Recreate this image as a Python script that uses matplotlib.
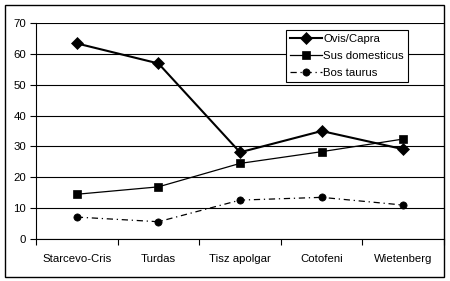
import numpy as np
import matplotlib.pyplot as plt
from matplotlib.patches import Rectangle

plt.rcParams['font.family'] = ['Liberation Sans', 'DejaVu Sans']

# Data
sites = ['Starcevo-Cris', 'Turdas', 'Tisz apolgar', 'Cotofeni', 'Wietenberg']
ovis_capra = [63.4, 56.9, 28.1, 35.0, 29.1]
sus_domesticus = [14.5, 16.9, 24.5, 28.3, 32.4]
bos_taurus = [7.1, 5.6, 12.6, 13.5, 11.0]
y_ticks = [0, 10, 20, 30, 40, 50, 60, 70]

fig = plt.figure(figsize=(4.5, 2.81), dpi=100)
ax = fig.add_axes([0.08, 0.1495, 0.9067, 0.7685])

# outer frame around the whole chart
fig.patches.append(Rectangle((4.5 / 450, 1 - 276.5 / 281), 439.5 / 450, 272 / 281,
                             transform=fig.transFigure, fill=False,
                             edgecolor='black', linewidth=1))

x = np.arange(len(sites))
ax.plot(x, ovis_capra, color='black', lw=1.5, marker='D', ms=6.5, mew=0.5,
        label='Ovis/Capra')
ax.plot(x, sus_domesticus, color='black', lw=0.9, marker='s', ms=5.5, mew=0.5,
        label='Sus domesticus')
ax.plot(x, bos_taurus, color='black', lw=0.9, ls=(0, (5, 3, 1, 3)), marker='o', ms=5.2,
        mew=0.5, label='Bos taurus')

ax.set_xlim(-0.5, len(sites) - 0.5)
ax.set_ylim(0, 70)
ax.set_yticks(y_ticks)
ax.set_xticks(np.arange(len(sites) + 1) - 0.5)
ax.set_xticklabels([])
ax.set_xticks(x, minor=True)
ax.set_xticklabels(sites, minor=True)
ax.tick_params(axis='x', which='minor', length=0, pad=11, labelsize=8.2)
ax.tick_params(axis='x', which='major', length=4, direction='out', width=0.8)
ax.tick_params(axis='y', length=4, direction='out', width=0.8, labelsize=8.2, pad=3)

ax.yaxis.grid(True, color='black', lw=0.8)
ax.set_axisbelow(True)
for s in ['top', 'right']:
    ax.spines[s].set_visible(False)
ax.spines['left'].set_linewidth(0.8)
ax.spines['bottom'].set_linewidth(0.8)

leg = ax.legend(loc='upper left', bbox_to_anchor=(0.613, 0.968), fontsize=8.2,
                frameon=True, fancybox=False, edgecolor='black', framealpha=1,
                handlelength=2.8, borderpad=0.35, labelspacing=0.62,
                handletextpad=0.1, borderaxespad=0)
leg.get_frame().set_linewidth(0.8)

fig.savefig('out.png', dpi=100)
